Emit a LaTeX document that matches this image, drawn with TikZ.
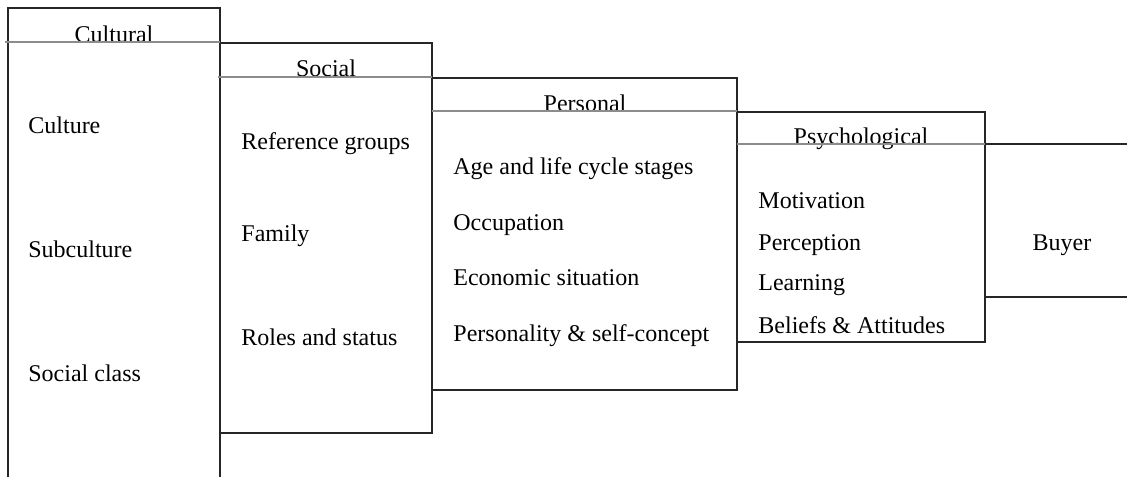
\documentclass[tikz,border=0pt]{standalone}
\usepackage{fontspec}
\setmainfont{Liberation Serif}

\begin{document}
\begin{tikzpicture}[
        x=0.5pt, y=-0.5pt,
        font=\fontsize{12}{14}\selectfont,
        frame/.style={draw=black!85, line width=0.7pt},
        divider/.style={draw=black!45, line width=0.8pt},
        header/.style={anchor=base, inner sep=0pt},
        item/.style={anchor=base west, inner sep=0pt}
    ]
        \useasboundingbox (0,0) rectangle (1127,477);

        % the four steps and the buyer
        \draw[frame] (8,477) -- (8,8) -- (220,8) -- (220,477);
        \draw[frame] (220,43) -- (432,43) -- (432,433) -- (220,433);
        \draw[frame] (432,78) -- (737,78) -- (737,390) -- (432,390);
        \draw[frame] (737,112) -- (985,112) -- (985,342) -- (737,342);
        \draw[frame] (985,144) -- (1127,144);
        \draw[frame] (985,297) -- (1127,297);

        \node[header] (cultural) at (114,42) {Cultural};
        \node[header] (social) at (326,76) {Social};
        \node[header] (personal) at (585,111) {Personal};
        \node[header] (psychological) at (861,144) {Psychological};

        \draw[divider] (5,42) -- (220,42);
        \draw[divider] (218,77) -- (432,77);
        \draw[divider] (432,111) -- (737,111);
        \draw[divider] (737,144) -- (985,144);

        \node[item] (culture) at (28,133) {Culture};
        \node[item] (subculture) at (28,257) {Subculture};
        \node[item] (socialclass) at (28,381) {Social class};

        \node[item] (refgroups) at (241,149) {Reference groups};
        \node[item] (family) at (241,241) {Family};
        \node[item] (roles) at (241,345) {Roles and status};

        \node[item] (age) at (453,174) {Age and life cycle stages};
        \node[item] (occupation) at (453,230) {Occupation};
        \node[item] (economic) at (453,285) {Economic situation};
        \node[item] (personality) at (453,341) {Personality \& self-concept};

        \node[item] (motivation) at (758,208) {Motivation};
        \node[item] (perception) at (758,250) {Perception};
        \node[item] (learning) at (758,290) {Learning};
        \node[item] (beliefs) at (758,333) {Beliefs \& Attitudes};

        \node[header] (buyer) at (1062,250) {Buyer};
    \end{tikzpicture}
\end{document}
